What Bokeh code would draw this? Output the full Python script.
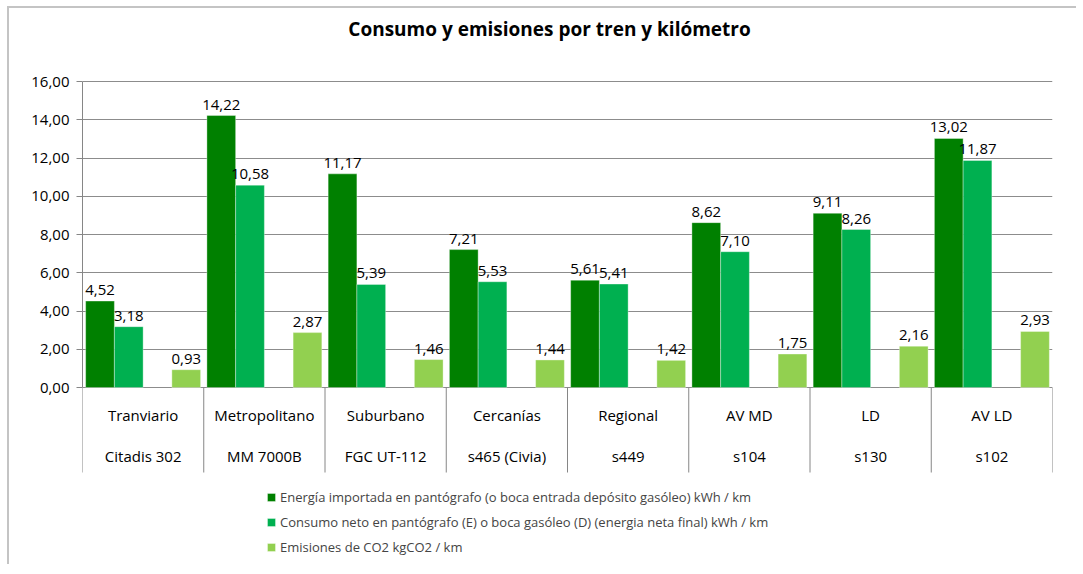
import numpy as np
from bokeh.plotting import figure
from bokeh.models import (ColumnDataSource, Range1d, FixedTicker, CustomJSTickFormatter,
                          Legend, LegendItem, Label)
from bokeh.transform import dodge
from bokeh.core.properties import value
from bokeh.embed import file_html
from bokeh.resources import INLINE

# ---- data ----
title_text = "Consumo y emisiones por tren y kilómetro"
tipos = ["Tranviario", "Metropolitano", "Suburbano", "Cercanías", "Regional", "AV MD", "LD", "AV LD"]
modelos = ["Citadis 302", "MM 7000B", "FGC UT-112", "s465 (Civia)", "s449", "s104", "s130", "s102"]
energia_importada = [4.52, 14.22, 11.17, 7.21, 5.61, 8.62, 9.11, 13.02]
consumo_neto = [3.18, 10.58, 5.39, 5.53, 5.41, 7.10, 8.26, 11.87]
emisiones_co2 = [0.93, 2.87, 1.46, 1.44, 1.42, 1.75, 2.16, 2.93]
series_names = [
    "Energía importada en pantógrafo (o boca entrada depósito gasóleo) kWh / km",
    "Consumo neto en pantógrafo (E) o boca gasóleo (D) (energia neta final) kWh / km",
    "Emisiones de CO2 kgCO2 / km",
]
y_ticks = [0, 2, 4, 6, 8, 10, 12, 14, 16]

colors = ["#008000", "#00B050", "#92D050"]
FONT = "Open Sans"
FS = "15px"

n = len(tipos)
centers = np.arange(n) + 0.5
fmt = lambda v: f"{v:.2f}".replace(".", ",")

src = ColumnDataSource(dict(
    x=centers,
    s1=energia_importada, s2=consumo_neto, s3=emisiones_co2,
    l1=[fmt(v) for v in energia_importada],
    l2=[fmt(v) for v in consumo_neto],
    l3=[fmt(v) for v in emisiones_co2],
    tipo=tipos, modelo=modelos,
    zero=[0] * n,
))

# layout: value 16 -> 81px, 0 -> 387px (19.125 px/unit); the frame spans from the title down to the legend
PX = 306 / 16
top_px, bottom_px = 10, 560
y_top = 16 + (81 - top_px) / PX
y_bottom = -(bottom_px - 387) / PX
sep_bottom = -85 / PX

p = figure(output_backend="svg", toolbar_location=None,
           x_range=Range1d(0, n), y_range=Range1d(y_bottom, y_top),
           frame_width=970, frame_height=bottom_px - top_px,
           min_border_left=73, min_border_right=24, min_border_top=2, min_border_bottom=4)
p.styles = {"margin-left": "7px", "margin-top": "6px",
            "border-top": "2px solid #c4c4c4", "border-left": "2px solid #c4c4c4"}
p.outline_line_color = None
p.background_fill_color = "white"

p.add_layout(Label(x=n / 2, y=16 + (81 - 28) / PX, x_offset=-18, text=title_text,
                   text_align="center", text_baseline="middle",
                   text_font=FONT, text_font_size="19px", text_font_style="bold",
                   text_color="black"))

# axes
p.xaxis.visible = False
p.xgrid.visible = False
ax = p.yaxis[0]
ax.ticker = FixedTicker(ticks=y_ticks)
ax.bounds = (0, 16)
ax.formatter = CustomJSTickFormatter(code="return tick.toFixed(2).replace('.', ',');")
ax.axis_line_color = "#868686"
ax.major_tick_line_color = "#868686"
ax.major_tick_out = 6
ax.major_tick_in = 0
ax.minor_tick_line_color = None
ax.major_label_text_font = FONT
ax.major_label_text_font_size = FS
ax.major_label_text_color = "black"
ax.major_label_standoff = 7
p.ygrid.ticker = FixedTicker(ticks=y_ticks)
p.ygrid.grid_line_color = "#8c8c8c"

w = 0.237
offsets = [-1.5 * w, -0.5 * w, 1.5 * w]
renderers = []
for i, (col, lab) in enumerate([("s1", "l1"), ("s2", "l2"), ("s3", "l3")]):
    r = p.vbar(x=dodge("x", offsets[i], range=p.x_range), top=col, width=w, bottom=0,
               source=src, fill_color=colors[i], line_color="white", line_alpha=0.35, line_width=1)
    renderers.append(r)
    p.text(x=dodge("x", offsets[i], range=p.x_range), y=col, text=lab, source=src,
           text_align="center", text_baseline="bottom", y_offset=-6,
           text_font=value(FONT), text_font_size=FS, text_color="black")

# category axis (two levels)
bounds_x = np.arange(n + 1)
p.segment(x0=bounds_x, x1=bounds_x, y0=[0] * (n + 1), y1=[sep_bottom] * (n + 1),
          line_color="#868686", line_width=1)
p.text(x="x", y="zero", text="tipo", source=src, text_align="center", text_baseline="middle",
       y_offset=27, text_font=value(FONT), text_font_size=FS, text_color="black")
p.text(x="x", y="zero", text="modelo", source=src, text_align="center", text_baseline="middle",
       y_offset=68, text_font=value(FONT), text_font_size=FS, text_color="black")

legend = Legend(items=[LegendItem(label=series_names[i], renderers=[renderers[i]]) for i in range(3)],
                location=(184, 4), orientation="vertical",
                label_text_font=FONT, label_text_font_size="13px",
                glyph_width=10, glyph_height=10, label_height=18, spacing=7,
                padding=2, margin=0, border_line_color=None, background_fill_alpha=0,
                label_standoff=4)
p.add_layout(legend)

open("out.html", "w").write(file_html(p, INLINE))
